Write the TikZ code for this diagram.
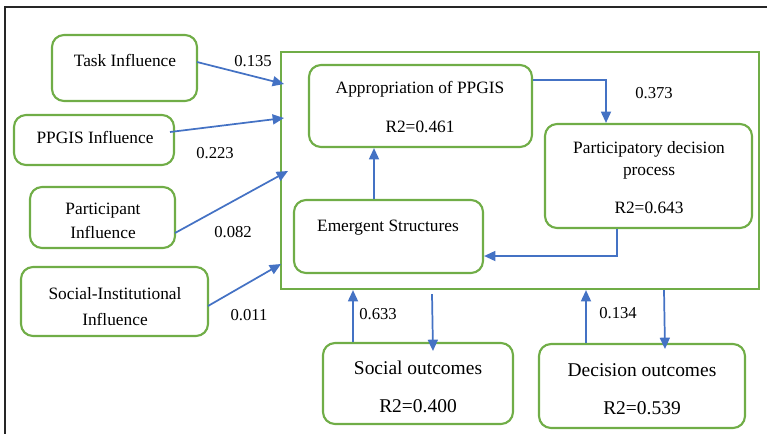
\documentclass[tikz,border=0pt]{standalone}
\usepackage{fontspec}
\setmainfont{Liberation Serif}
\usetikzlibrary{arrows.meta,fit}
\definecolor{gr}{RGB}{112,173,71}
\definecolor{bl}{RGB}{68,114,196}
\begin{document}
\begin{tikzpicture}[x=0.75pt,y=-0.75pt,
  box/.style={draw=gr,line width=1.6pt,rounded corners=9pt,inner sep=0pt},
  txt/.style={font=\fontsize{13}{15.5}\selectfont,align=center,inner sep=0pt},
  bigtxt/.style={font=\fontsize{14.6}{17}\selectfont,align=center,inner sep=0pt},
  arr/.style={draw=bl,line width=1.3pt,-{Triangle[length=8.5pt,width=7.5pt]}},
  coef/.style={font=\fontsize{12.5}{15}\selectfont,inner sep=0pt}]
\useasboundingbox (0,0) rectangle (767,433);
% outer frame
\draw[line width=1.3pt,black!85] (5,440) -- (5,7) -- (775,7);
% big container
\node[draw=gr,line width=1.6pt,inner sep=0pt,fit={(281,52) (759,289)}] (big) {};
% left boxes
\node[box,fit={(52,35) (197,101)}] (task) {};
\node[txt] (taskt) at (125,60) {Task Influence};
\node[box,fit={(14,115) (174,165)}] (ppgis) {};
\node[txt] (ppgist) at (95,137) {PPGIS Influence};
\node[box,fit={(30,187) (175,248)}] (part) {};
\node[txt] (partt) at (103,221) {Participant\\[2pt]Influence};
\node[box,fit={(21,267) (208,336)}] (soc) {};
\node[txt] (soct) at (115,307) {Social-Institutional\\[4pt]Influence};
% inner boxes
\node[box,fit={(309,65) (532,147)}] (app) {};
\node[txt] (appt) at (420,107) {Appropriation of PPGIS\\[14pt]R2=0.461};
\node[box,fit={(545,124) (752,228)}] (pdp) {};
\node[txt] (pdpt) at (649,178) {Participatory decision\\[1pt]process\\[13pt]R2=0.643};
\node[box,fit={(294,200) (483,273)}] (emg) {};
\node[txt] (emgt) at (388,228) {Emergent Structures};
% bottom boxes
\node[box,fit={(323,343) (513,424)}] (so) {};
\node[bigtxt] (sot) at (418,387) {Social outcomes\\[11.5pt]R2=0.400};
\node[box,fit={(539,344) (745,428)}] (dec) {};
\node[bigtxt] (dect) at (642,389) {Decision outcomes\\[11.5pt]R2=0.539};
% coordinates for arrow ends
\coordinate (t1) at (197,62);  \coordinate (t2) at (284,84);
\coordinate (p1) at (170,132); \coordinate (p2) at (284,118);
\coordinate (q1) at (175,233); \coordinate (q2) at (288,171);
\coordinate (s1) at (208,306); \coordinate (s2) at (281,264);
\draw[arr] (t1) -- (t2);
\draw[arr] (p1) -- (p2);
\draw[arr] (q1) -- (q2);
\draw[arr] (s1) -- (s2);
% inner arrows
\draw[arr] (app.east |- 0,80) -| (pdp.north -| 606,0);
\draw[arr] (pdp.south -| 617,0) |- (emg.east |- 0,256);
\draw[arr] (emg.north -| 374,0) -- (app.south -| 374,0);
% bottom arrows
\draw[arr] (so.north -| 353,0) -- (big.south -| 353,0);
\draw[arr] (big.south -| 432,0) ++(0,4) -- (433,351);
\draw[arr] (dec.north -| 586,0) -- (big.south -| 586,0);
\draw[arr] (big.south -| 664,0) -- (665,349);
% coefficients
\node[coef] (c1) at (253,61) {0.135};
\node[coef] (c2) at (215,153) {0.223};
\node[coef] (c3) at (233,232) {0.082};
\node[coef] (c4) at (249,315) {0.011};
\node[coef] (c5) at (654,93) {0.373};
\node[coef] (c6) at (378,314) {0.633};
\node[coef] (c7) at (618,313) {0.134};
\end{tikzpicture}
\end{document}
